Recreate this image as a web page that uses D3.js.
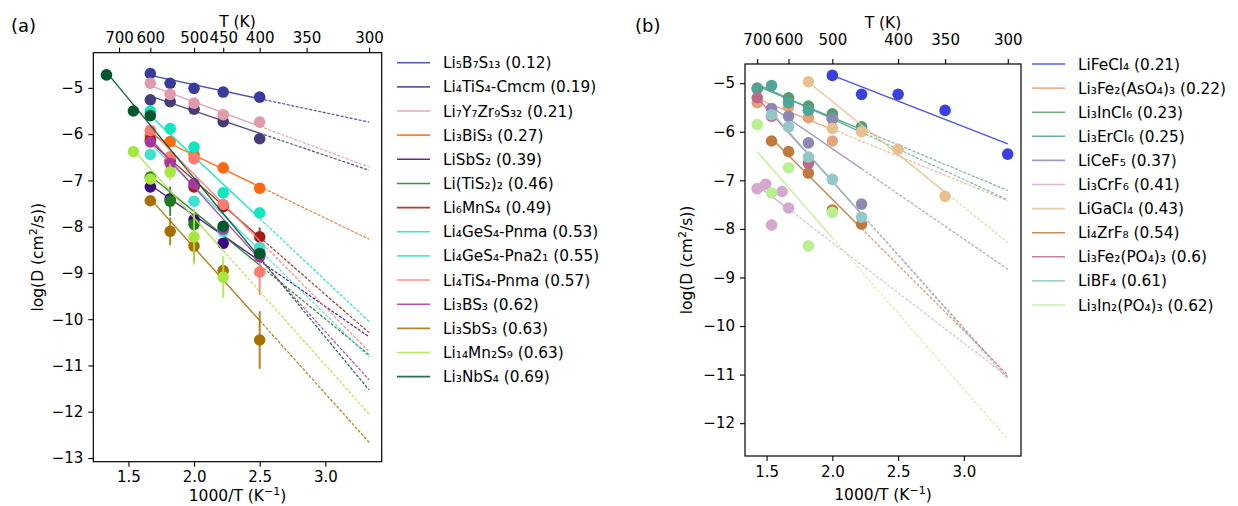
<!DOCTYPE html>
<html><head><meta charset="utf-8">
<script src="https://cdn.jsdelivr.net/npm/d3@7"></script>
<style>body{margin:0;background:#fff} text{font-family:"DejaVu Sans",sans-serif;fill:#000}</style>
</head><body><svg id="c" width="1238" height="506"></svg>
<script>
// ---------- Panel (a) data ----------
const labelsA = ["Li₅B₇S₁₃ (0.12)","Li₄TiS₄-Cmcm (0.19)","Li₇Y₇Zr₉S₃₂ (0.21)","Li₃BiS₃ (0.27)","LiSbS₂ (0.39)",
  "Li(TiS₂)₂ (0.46)","Li₆MnS₄ (0.49)","Li₄GeS₄-Pnma (0.53)","Li₄GeS₄-Pna2₁ (0.55)","Li₄TiS₄-Pnma (0.57)",
  "Li₃BS₃ (0.62)","Li₃SbS₃ (0.63)","Li₁₄Mn₂S₉ (0.63)","Li₃NbS₄ (0.69)"];
const colorsA = ["#3a3a9c","#463c7a","#e09aac","#ff6a10","#3c0a84","#217a21","#a01c14","#10e6c0","#3ee0d0",
  "#ff7a70","#a8389e","#a87000","#a8e640","#00582c"];
// points: [1000/T, logD, error]
const pointsA = [
  [[1.667,-4.69,0],[1.818,-4.90,0],[2.0,-5.01,0],[2.222,-5.09,0],[2.5,-5.20,0]],
  [[1.667,-5.26,0],[1.818,-5.30,0],[2.0,-5.46,0],[2.222,-5.73,0],[2.5,-6.10,0]],
  [[1.667,-4.90,0],[1.818,-5.14,0],[2.0,-5.33,0],[2.222,-5.58,0],[2.5,-5.74,0]],
  [[1.667,-6.04,0],[1.818,-6.16,0],[2.0,-6.44,0],[2.222,-6.73,0],[2.5,-7.17,0]],
  [[1.667,-7.14,0],[1.818,-7.40,0],[2.0,-7.85,0],[2.222,-8.36,0.1],[2.5,-8.62,0]],
  [[1.667,-6.93,0],[1.818,-7.45,0.32],[2.0,-7.95,0],[2.222,-8.05,0],[2.5,-8.57,0]],
  [[1.667,-6.12,0],[1.818,-6.58,0],[2.0,-7.14,0.1],[2.222,-7.57,0],[2.5,-8.22,0.2]],
  [[1.667,-5.50,0],[1.818,-5.88,0],[2.0,-6.28,0],[2.222,-7.27,0],[2.5,-7.70,0]],
  [[1.667,-6.44,0],[2.0,-7.45,0],[2.222,-8.10,0],[2.5,-8.45,0]],
  [[1.667,-5.92,0],[1.818,-6.49,0],[2.0,-6.53,0.12],[2.222,-7.52,0],[2.5,-8.98,0.5]],
  [[1.667,-6.17,0],[1.818,-6.63,0],[2.0,-7.07,0],[2.222,-8.05,0],[2.5,-8.65,0]],
  [[1.667,-7.44,0],[1.818,-8.10,0.3],[2.0,-8.42,0.35],[2.222,-8.95,0.12],[2.5,-10.45,0.62]],
  [[1.538,-6.38,0],[1.667,-6.97,0],[1.818,-6.82,0.18],[2.0,-8.22,0.6],[2.222,-9.09,0.45]],
  [[1.333,-4.72,0],[1.538,-5.50,0],[1.667,-5.60,0],[2.222,-7.99,0],[2.5,-8.58,0]]
];
// fits: [x start, logD at start, x where solid part ends, logD at 1000/300]
const fitsA = [
  [1.667,-4.73,2.5,-5.74],[1.667,-5.18,2.5,-6.78],[1.667,-4.95,2.5,-6.71],[1.667,-6.00,2.5,-8.27],
  [1.667,-7.10,2.5,-10.38],[1.667,-6.90,2.5,-10.77],[1.667,-6.17,2.5,-10.29],[1.667,-5.60,2.5,-10.05],
  [1.667,-6.20,2.5,-10.82],[1.667,-5.91,2.5,-10.70],[1.667,-6.10,2.5,-11.31],[1.667,-7.40,2.5,-12.66],
  [1.538,-6.34,2.222,-12.05],[1.333,-4.66,2.5,-11.53]
];
const topTicksA = [700,600,500,450,400,350,300];
const bottomTicksA = [1.5,2.0,2.5,3.0];
const yTicksA = [-13,-12,-11,-10,-9,-8,-7,-6,-5];

// ---------- Panel (b) data ----------
const labelsB = ["LiFeCl₄ (0.21)","Li₃Fe₂(AsO₄)₃ (0.22)","Li₃InCl₆ (0.23)","Li₃ErCl₆ (0.25)","LiCeF₅ (0.37)",
  "Li₃CrF₆ (0.41)","LiGaCl₄ (0.43)","Li₄ZrF₈ (0.54)","Li₃Fe₂(PO₄)₃ (0.6)","LiBF₄ (0.61)","Li₃In₂(PO₄)₃ (0.62)"];
const colorsB = ["#3a40e0","#e8a27a","#579a6e","#4fa596","#9088b4","#d4a8cc","#e8c090","#c0783c","#c06888",
  "#92c8c8","#b8f090"];
const pointsB = [
  [[2.0,-4.84,0],[2.222,-5.23,0],[2.5,-5.23,0],[2.857,-5.56,0],[3.333,-6.46,0]],
  [[1.429,-5.40,0],[1.667,-5.49,0],[1.818,-5.71,0],[2.0,-6.19,0]],
  [[1.429,-5.10,0],[1.667,-5.30,0],[1.818,-5.47,0],[2.0,-5.63,0],[2.222,-5.90,0]],
  [[1.429,-5.12,0],[1.538,-5.05,0],[1.667,-5.40,0],[1.818,-5.56,0],[2.0,-5.72,0],[2.222,-5.95,0]],
  [[1.538,-5.52,0],[1.667,-5.68,0],[1.818,-6.23,0],[2.0,-5.74,0],[2.222,-7.49,0]],
  [[1.429,-7.17,0.1],[1.493,-7.08,0],[1.618,-7.23,0.12],[1.667,-7.57,0],[1.538,-7.92,0.12]],
  [[1.818,-4.97,0],[2.0,-5.93,0],[2.222,-6.00,0],[2.5,-6.36,0],[2.857,-7.33,0]],
  [[1.538,-6.19,0],[1.667,-6.41,0],[1.818,-6.85,0],[2.0,-7.61,0.08],[2.222,-7.90,0.08]],
  [[1.429,-5.30,0],[1.538,-5.68,0],[1.818,-6.65,0]],
  [[1.538,-5.65,0],[1.667,-5.90,0],[1.818,-6.52,0],[2.0,-6.98,0],[2.222,-7.76,0]],
  [[1.429,-5.85,0],[1.538,-7.26,0],[1.667,-6.74,0],[1.818,-8.35,0.12],[2.0,-7.66,0.1]]
];
const fitsB = [
  [2.0,-4.84,3.3333,-6.25],[1.429,-5.32,2.0,-7.42],[1.429,-5.06,2.222,-7.21],[1.429,-5.02,2.222,-7.40],
  [1.538,-5.49,2.222,-8.83],[1.429,-7.10,1.667,-11.04],[1.818,-4.98,2.857,-8.28],[1.538,-6.14,2.222,-11.0],
  [1.429,-5.30,2.222,-11.05],[1.538,-5.60,2.222,-11.1],[1.429,-6.41,2.0,-12.33]
];
const topTicksB = [700,600,500,400,350,300];
const bottomTicksB = [1.5,2.0,2.5,3.0];
const yTicksB = [-12,-11,-10,-9,-8,-7,-6,-5];

const X_END = 1000/300;
const svg = d3.select("#c");
const FS_TICK = 15, FS_LAB = 15.5, FS_LEG = 15.3;
const fmt = v => (v < 0 ? "\u2212" : "") + Math.abs(v);

function panel(cfg, id) {
  const x = d3.scaleLinear().domain(cfg.xd).range([cfg.l, cfg.r]);
  const y = d3.scaleLinear().domain(cfg.yd).range([cfg.b, cfg.t]);
  const g = svg.append("g");
  g.append("clipPath").attr("id", "clip" + id).append("rect")
    .attr("x", cfg.l).attr("y", cfg.t).attr("width", cfg.r - cfg.l).attr("height", cfg.b - cfg.t);
  const data = g.append("g").attr("clip-path", `url(#clip${id})`);

  cfg.pts.forEach((pts, i) => {
    const c = cfg.colors[i];
    const [xs, ys, xe, yEnd] = cfg.fits[i];
    const lineY = xv => ys + (yEnd - ys) * (xv - xs) / (X_END - xs);
    data.append("line").attr("x1", x(xs)).attr("y1", y(ys)).attr("x2", x(xe)).attr("y2", y(lineY(xe)))
      .attr("stroke", c).attr("stroke-width", 1.4).attr("stroke-opacity", 0.9);
    if (xe < X_END - 1e-3) {
      data.append("line").attr("x1", x(xe)).attr("y1", y(lineY(xe))).attr("x2", x(X_END)).attr("y2", y(yEnd))
        .attr("stroke", c).attr("stroke-width", 1.2).attr("stroke-dasharray", "3,1.6").attr("stroke-opacity", cfg.dashOp);
    }
    pts.forEach(p => {
      if (p[2] > 0) {
        data.append("line").attr("x1", x(p[0])).attr("x2", x(p[0]))
          .attr("y1", y(p[1] - p[2])).attr("y2", y(p[1] + p[2]))
          .attr("stroke", c).attr("stroke-width", 2).attr("stroke-opacity", 0.85);
      }
    });
    data.selectAll(null).data(pts).enter().append("circle")
      .attr("cx", d => x(d[0])).attr("cy", d => y(d[1])).attr("r", 5.8).attr("fill", c);
  });

  const styleAxis = sel => {
    sel.select(".domain").remove();
    sel.selectAll(".tick line").attr("stroke", "#000").attr("stroke-width", 1.1);
    sel.selectAll(".tick text").attr("font-size", FS_TICK).attr("font-family", "DejaVu Sans").attr("fill", "#000");
  };
  g.append("g").attr("transform", `translate(0,${cfg.b})`)
    .call(d3.axisBottom(x).tickValues(cfg.bt).tickFormat(d => d.toFixed(1)).tickSize(5).tickPadding(5)).call(styleAxis);
  g.append("g").attr("transform", `translate(${cfg.l},0)`)
    .call(d3.axisLeft(y).tickValues(cfg.yt).tickFormat(fmt).tickSize(5).tickPadding(5)).call(styleAxis);
  g.append("g").attr("transform", `translate(0,${cfg.t})`)
    .call(d3.axisTop(x).tickValues(cfg.tt.map(T => 1000 / T)).tickFormat(d => Math.round(1000 / d))
      .tickSize(5).tickPadding(cfg.topPad)).call(styleAxis);

  g.append("rect").attr("x", cfg.l).attr("y", cfg.t).attr("width", cfg.r - cfg.l).attr("height", cfg.b - cfg.t)
    .attr("fill", "none").attr("stroke", "#000").attr("stroke-width", 1.2);

  const cx = (cfg.l + cfg.r) / 2;
  const xl = g.append("text").attr("x", cx).attr("y", cfg.xlY).attr("text-anchor", "middle").attr("font-size", FS_LAB);
  xl.append("tspan").text("1000/T (K");
  xl.append("tspan").attr("dy", -6).attr("font-size", 11).text("\u22121");
  xl.append("tspan").attr("dy", 6).text(")");
  g.append("text").attr("x", cx).attr("y", cfg.tlY).attr("text-anchor", "middle").attr("font-size", FS_LAB).text("T (K)");
  const yl = g.append("text").attr("transform", `translate(${cfg.ylX},${(cfg.t + cfg.b) / 2}) rotate(-90)`)
    .attr("text-anchor", "middle").attr("font-size", FS_LAB);
  yl.append("tspan").text("log(D (cm");
  yl.append("tspan").attr("dy", -6).attr("font-size", 11).text("2");
  yl.append("tspan").attr("dy", 6).text("/s))");
  g.append("text").attr("x", cfg.letterX).attr("y", 32).attr("font-size", 18).text(cfg.letter);

  cfg.labels.forEach((lab, i) => {
    const yy = cfg.lg.y0 + i * cfg.lg.dy;
    g.append("line").attr("x1", cfg.lg.x0).attr("x2", cfg.lg.x1).attr("y1", yy).attr("y2", yy)
      .attr("stroke", cfg.colors[i]).attr("stroke-width", 1.6).attr("stroke-opacity", 0.85);
    g.append("text").attr("x", cfg.lg.tx).attr("y", yy).attr("dy", "0.36em").attr("font-size", FS_LEG).text(lab);
  });
}

panel({l:93.3, r:381.7, t:52.7, b:461.7, xd:[1.2325,3.4295], yd:[-13.08,-4.24],
  pts:pointsA, fits:fitsA, colors:colorsA, labels:labelsA, tt:topTicksA, bt:bottomTicksA, yt:yTicksA,
  topPad:5, dashOp:0.9, xlY:501, tlY:27, ylX:43, letter:"(a)", letterX:11,
  lg:{x0:397, x1:430, tx:443, y0:62.7, dy:24.15}}, "a");

panel({l:745, r:1021, t:64, b:456, xd:[1.336,3.434], yd:[-12.676,-4.605],
  pts:pointsB, fits:fitsB, colors:colorsB, labels:labelsB, tt:topTicksB, bt:bottomTicksB, yt:yTicksB,
  topPad:14, dashOp:0.75, xlY:500, tlY:28, ylX:692, letter:"(b)", letterX:635,
  lg:{x0:1032, x1:1065, tx:1078, y0:64, dy:24.1}}, "b");
</script></body></html>
